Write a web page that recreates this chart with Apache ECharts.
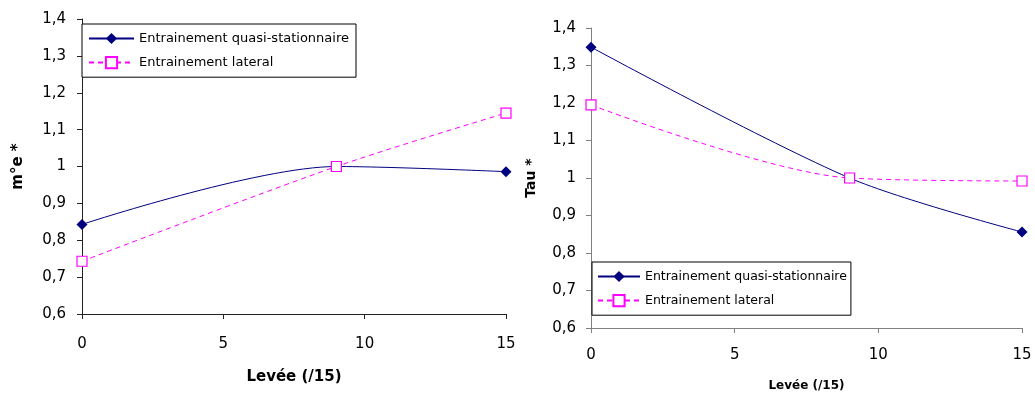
<!DOCTYPE html>
<html><head><meta charset="utf-8">
<script src="https://cdn.jsdelivr.net/npm/echarts@6/dist/echarts.min.js"></script>
<style>html,body{margin:0;padding:0;background:#fff}#c{width:1035px;height:399px}</style>
</head><body><div id="c"></div>
<script>
var levee = [0, 9, 15];
var meQuasi = [0.843, 1.0, 0.986];
var meLateral = [0.743, 1.0, 1.145];
var tauQuasi = [1.349, 1.0, 0.856];
var tauLateral = [1.195, 1.0, 0.992];
var nameQuasi = 'Entrainement quasi-stationnaire';
var nameLateral = 'Entrainement lateral';
var xTitle = 'Levée (/15)';
var yTitleLeft = 'm°e *';
var yTitleRight = 'Tau *';

function pairs(xs, ys){ return xs.map(function(x,i){ return [x, ys[i]]; }); }
var FONT = '"DejaVu Sans", sans-serif';
var fmt = function(v){ return String(+(+v).toFixed(1)).replace('.', ','); };

function xAxis(gi, fs, margin, nameSize, nameGap, axColor){
  return {type:'value', gridIndex:gi, min:0, max:15, interval:5,
    name:xTitle, nameLocation:'middle', nameGap:nameGap,
    nameTextStyle:{fontFamily:FONT, fontWeight:'bold', fontSize:nameSize, color:'#000'},
    axisLine:{onZero:false, lineStyle:{color:axColor, width:1}},
    axisTick:{show:true, length:5, lineStyle:{color:axColor}},
    axisLabel:{fontFamily:FONT, fontSize:fs, color:'#000', margin:margin},
    splitLine:{show:false}};
}
function yAxis(gi, fs, margin, title, nameSize, nameGap, axColor){
  return {type:'value', gridIndex:gi, min:0.6, max:1.4, interval:0.1,
    name:title, nameLocation:'middle', nameGap:nameGap, nameRotate:90,
    nameTextStyle:{fontFamily:FONT, fontWeight:'bold', fontSize:nameSize, color:'#000'},
    axisLine:{show:true, lineStyle:{color:axColor, width:1}},
    axisTick:{show:true, length:5, lineStyle:{color:axColor}},
    axisLabel:{fontFamily:FONT, fontSize:fs, color:'#000', margin:margin, formatter:fmt},
    splitLine:{show:false}};
}
function quasi(gi, data){
  return {name:nameQuasi, type:'line', xAxisIndex:gi, yAxisIndex:gi, data:pairs(levee, data),
    smooth:0.3, symbol:'diamond', symbolSize:11, z:2,
    lineStyle:{color:'#000080', width:1}, itemStyle:{color:'#000080'}};
}
function lateral(gi, data){
  return {name:nameLateral, type:'line', xAxisIndex:gi, yAxisIndex:gi, data:pairs(levee, data),
    smooth:0.3, symbol:'rect', symbolSize:10, z:3,
    lineStyle:{color:'#FF00FF', width:1, type:[5,4]},
    itemStyle:{color:'#ffffff', borderColor:'#FF00FF', borderWidth:1.2}};
}
function legend(left, top, fs, iw, pad){
  return {orient:'vertical', left:left, top:top, padding:pad, itemGap:11, itemWidth:iw, itemHeight:14,
    borderColor:'#000', borderWidth:1, backgroundColor:'#fff', selectedMode:false,
    textStyle:{fontFamily:FONT, fontSize:fs, color:'#000', padding:[0,0,0,0]},
    data:[nameQuasi, nameLateral]};
}

var chart = echarts.init(document.getElementById('c'), null, {renderer:'canvas'});
chart.setOption({
  animation:false,
  backgroundColor:'#fff',
  grid:[
    {left:82, right:529, top:19, bottom:85},
    {left:591, right:13, top:28, bottom:71}
  ],
  xAxis:[ xAxis(0, 15, 23, 15, 56, '#222'), xAxis(1, 15, 20, 12, 52, '#808080') ],
  yAxis:[ yAxis(0, 15, 16, yTitleLeft, 15, 56, '#222'), yAxis(1, 15, 15, yTitleRight, 14, 53, '#808080') ],
  legend:[ legend(82, 24, 13, 45, [8,7,8,6]), legend(592, 262, 12.5, 42, [8,4,8,5]) ],
  series:[ quasi(0, meQuasi), lateral(0, meLateral), quasi(1, tauQuasi), lateral(1, tauLateral) ]
});
</script></body></html>
